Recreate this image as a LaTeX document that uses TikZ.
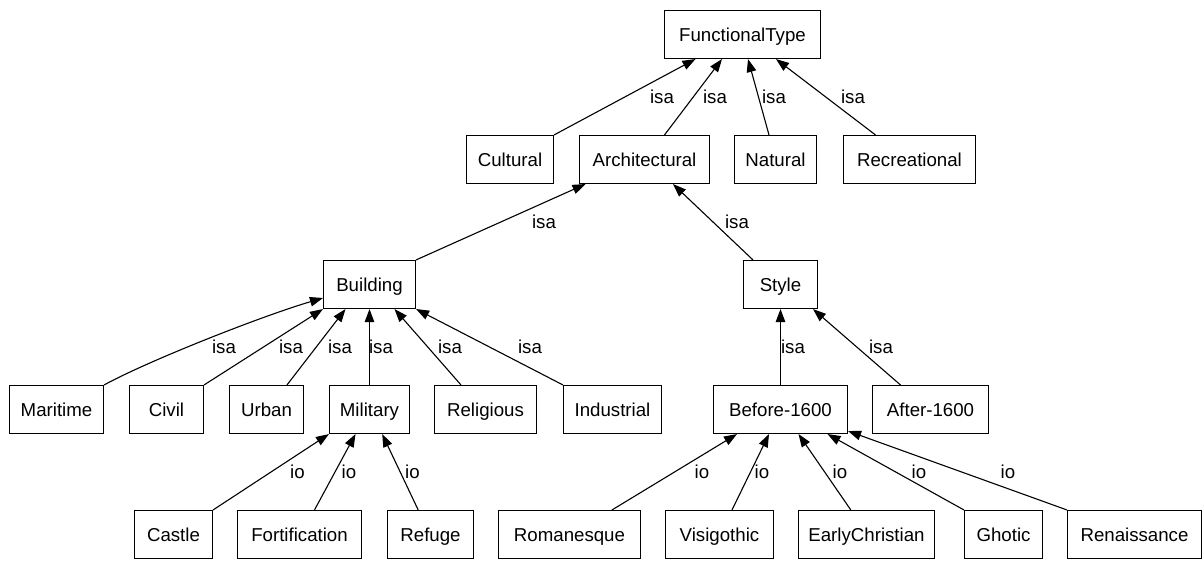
\documentclass[tikz,border=0pt]{standalone}
\usepackage{fontspec}
\setmainfont{Liberation Sans}
\usetikzlibrary{arrows.meta,calc}
\tikzset{
  box/.style={draw, line width=1.1pt, rectangle, minimum height=48pt, inner sep=0pt,
    text height=13.4pt, text depth=0pt, font=\fontsize{18.67}{22}\selectfont},
  edge/.style={line width=1.1pt, -{Triangle[length=13pt,width=9.5pt]}},
  lbl/.style={anchor=base, inner sep=0pt, font=\fontsize{18.67}{22}\selectfont},
}
\begin{document}
\begin{tikzpicture}[x=1pt, y=-1pt]
\fill[white] (0,0) rectangle (1203,560);
\useasboundingbox (0,0) rectangle (1203,560);
% row 0
\node[box, minimum width=156pt] (FT) at (742.5,34.5) {FunctionalType};
% row 1
\node[box, minimum width=87pt] (Cultural) at (510,159.5) {Cultural};
\node[box, minimum width=130pt] (Architectural) at (644.5,159.5) {Architectural};
\node[box, minimum width=82pt] (Natural) at (775.5,159.5) {Natural};
\node[box, minimum width=132pt] (Recreational) at (909.5,159.5) {Recreational};
% row 2
\node[box, minimum width=92pt] (Building) at (369.5,284.5) {Building};
\node[box, minimum width=74pt] (Style) at (780.5,284.5) {Style};
% row 3
\node[box, minimum width=94pt] (Maritime) at (56.5,409.5) {Maritime};
\node[box, minimum width=74pt] (Civil) at (166.5,409.5) {Civil};
\node[box, minimum width=74pt] (Urban) at (266.5,409.5) {Urban};
\node[box, minimum width=80pt] (Military) at (369.5,409.5) {Military};
\node[box, minimum width=102pt] (Religious) at (485.5,409.5) {Religious};
\node[box, minimum width=98pt] (Industrial) at (612.5,409.5) {Industrial};
\node[box, minimum width=134pt] (Before1600) at (780.5,409.5) {Before-1600};
\node[box, minimum width=116pt] (After1600) at (930.5,409.5) {After-1600};
% row 4
\node[box, minimum width=78pt] (Castle) at (173.5,534.5) {Castle};
\node[box, minimum width=124pt] (Fortification) at (299.5,534.5) {Fortification};
\node[box, minimum width=86pt] (Refuge) at (430.5,534.5) {Refuge};
\node[box, minimum width=142pt] (Romanesque) at (569.5,534.5) {Romanesque};
\node[box, minimum width=108pt] (Visigothic) at (719.5,534.5) {Visigothic};
\node[box, minimum width=136pt] (EarlyChristian) at (866.5,534.5) {EarlyChristian};
\node[box, minimum width=78pt] (Ghotic) at (1003.5,534.5) {Ghotic};
\node[box, minimum width=134pt] (Renaissance) at (1134.5,534.5) {Renaissance};

% edges to FunctionalType
\draw[edge] (Cultural.north east) -- ($(FT.south)+(-47,0)$);
\draw[edge] ($(Architectural.north)+(20,0)$) -- ($(FT.south)+(-20.5,0)$);
\draw[edge] ($(Natural.north)+(-6.5,0)$) -- ($(FT.south)+(5.5,0)$);
\draw[edge] ($(Recreational.north)+(-34,0)$) -- ($(FT.south)+(33.5,0)$);
% edges to Architectural
\draw[edge] (Building.north east) -- ($(Architectural.south)+(-59,0)$);
\draw[edge] ($(Style.north)+(-27.5,0)$) -- ($(Architectural.south)+(28.5,0)$);
% edges to Building
\draw[edge] (Maritime.north east) .. controls (150,360) and (262,316) .. ($(Building.west)+(0,13.5)$);
\draw[edge] (Civil.north east) -- (Building.south west);
\draw[edge] ($(Urban.north)+(20.5,0)$) -- ($(Building.south)+(-24,0)$);
\draw[edge] (Military.north) -- (Building.south);
\draw[edge] ($(Religious.north)+(-24.5,0)$) -- ($(Building.south)+(25,0)$);
\draw[edge] (Industrial.north west) -- (Building.south east);
% edges to Style
\draw[edge] (Before1600.north) -- (Before1600.north |- Style.south);
\draw[edge] ($(After1600.north)+(-30,0)$) -- ($(Style.south)+(32.5,0)$);
% edges to Military
\draw[edge] (Castle.north east) -- (Military.south west);
\draw[edge] ($(Fortification.north)+(15,0)$) -- ($(Military.south)+(-14,0)$);
\draw[edge] ($(Refuge.north)+(-12.3,0)$) -- ($(Military.south)+(12.7,0)$);
% edges to Before-1600
\draw[edge] ($(Romanesque.north)+(42.5,0)$) -- ($(Before1600.south)+(-43.5,0)$);
\draw[edge] ($(Visigothic.north)+(12.5,0)$) -- ($(Before1600.south)+(-11.5,0)$);
\draw[edge] ($(EarlyChristian.north)+(-15.7,0)$) -- ($(Before1600.south)+(18,0)$);
\draw[edge] (Ghotic.north west) -- ($(Before1600.south)+(47,0)$);
\draw[edge] (Renaissance.north west) -- ($(Before1600.south east)+(0,-3)$);

% labels
\node[lbl] (l1) at (662,103) {isa};
\node[lbl] (l2) at (715,103) {isa};
\node[lbl] (l3) at (774,103) {isa};
\node[lbl] (l4) at (853,103) {isa};
\node[lbl] (l5) at (544,228) {isa};
\node[lbl] (l6) at (737,228) {isa};
\node[lbl] (l7) at (224,353) {isa};
\node[lbl] (l8) at (291,353) {isa};
\node[lbl] (l9) at (340,353) {isa};
\node[lbl] (l10) at (381,353) {isa};
\node[lbl] (l11) at (450,353) {isa};
\node[lbl] (l12) at (530,353) {isa};
\node[lbl] (l13) at (793,353) {isa};
\node[lbl] (l14) at (881,353) {isa};
\node[lbl] (l15) at (297.5,478) {io};
\node[lbl] (l16) at (349,478) {io};
\node[lbl] (l17) at (412.5,478) {io};
\node[lbl] (l18) at (702,478) {io};
\node[lbl] (l19) at (762,478) {io};
\node[lbl] (l20) at (840,478) {io};
\node[lbl] (l21) at (919,478) {io};
\node[lbl] (l22) at (1008,478) {io};
\end{tikzpicture}
\end{document}
